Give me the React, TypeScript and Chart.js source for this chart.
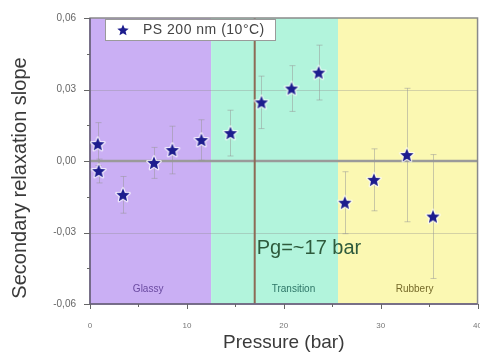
import React, { useEffect, useRef } from "react";
import { Chart, registerables } from "chart.js";

Chart.register(...registerables);

const pressure = [0.8, 0.9, 3.4, 6.6, 8.5, 11.5, 14.5, 17.7, 20.8, 23.6, 26.3, 29.3, 32.7, 35.4];
const slope = [0.0071, -0.0042, -0.0142, -0.0008, 0.0046, 0.0088, 0.0117, 0.0246, 0.0304, 0.0371, -0.0175, -0.0079, 0.0025, -0.0233];
const slopeErr = [0.009, 0.005, 0.0077, 0.0065, 0.01, 0.0085, 0.0096, 0.011, 0.0096, 0.0115, 0.013, 0.013, 0.028, 0.026];

const regionBounds = [0, 12.5, 25.6, 40];
const regionLabels = ["Glassy", "Transition", "Rubbery"];
const regionLabelX = [6, 21, 33.5];
const regionFill = ["#caaff4", "#b2f4dc", "#fbf8b2"];
const regionText = ["#6a4aa0", "#2d7566", "#756a2a"];

const pgValue = 17;
const pgLabel = "Pg=~17 bar";
const seriesLabel = "PS 200 nm (10°C)";
const yTitle = "Secondary relaxation slope";
const xTitle = "Pressure (bar)";

const xTicks = [0, 10, 20, 30, 40];
const yTicks = [-0.06, -0.03, 0, 0.03, 0.06];
const xMinor = [5, 15, 25, 35];
const yMinor = [-0.045, -0.015, 0.015, 0.045];

const FONT = "'Liberation Sans', Arial, sans-serif";

function makeStar(r: number): HTMLCanvasElement {
  const size = Math.ceil(r * 2 + 6);
  const c = document.createElement("canvas");
  c.width = size;
  c.height = size;
  const ctx = c.getContext("2d")!;
  const cx = size / 2;
  const cy = size / 2 + 0.5;
  ctx.beginPath();
  for (let i = 0; i < 10; i++) {
    const rad = i % 2 === 0 ? r : r * 0.45;
    const a = -Math.PI / 2 + (i * Math.PI) / 5;
    const px = cx + rad * Math.cos(a);
    const py = cy + rad * Math.sin(a);
    if (i === 0) ctx.moveTo(px, py);
    else ctx.lineTo(px, py);
  }
  ctx.closePath();
  ctx.lineJoin = "round";
  ctx.strokeStyle = "rgba(255,255,255,0.75)";
  ctx.lineWidth = 2.5;
  ctx.stroke();
  ctx.fillStyle = "#1d1d8e";
  ctx.fill();
  return c;
}

const decorPlugin = {
  id: "decor",
  beforeDraw(chart: any) {
    const { ctx, chartArea: a, scales } = chart;
    const x = scales.x;
    ctx.save();
    for (let i = 0; i < regionLabels.length; i++) {
      const x0 = x.getPixelForValue(regionBounds[i]);
      const x1 = x.getPixelForValue(regionBounds[i + 1]);
      ctx.fillStyle = regionFill[i];
      ctx.fillRect(x0, a.top, x1 - x0, a.bottom - a.top);
    }
    ctx.restore();
  },
  beforeDatasetsDraw(chart: any) {
    const { ctx, chartArea: a, scales } = chart;
    const x = scales.x;
    const y = scales.y;
    ctx.save();
    ctx.strokeStyle = "rgba(140,140,140,0.35)";
    ctx.lineWidth = 1;
    [-0.03, 0.03].forEach((v) => {
      const py = Math.round(y.getPixelForValue(v)) + 0.5;
      ctx.beginPath();
      ctx.moveTo(a.left, py);
      ctx.lineTo(a.right, py);
      ctx.stroke();
    });
    ctx.strokeStyle = "#9a9a9a";
    ctx.lineWidth = 2.5;
    const p0 = y.getPixelForValue(0);
    ctx.beginPath();
    ctx.moveTo(a.left, p0);
    ctx.lineTo(a.right, p0);
    ctx.stroke();
    ctx.strokeStyle = "rgba(150,150,150,0.5)";
    ctx.lineWidth = 1;
    for (let i = 0; i < pressure.length; i++) {
      const px = Math.round(x.getPixelForValue(pressure[i])) + 0.5;
      const yt = y.getPixelForValue(slope[i] + slopeErr[i]);
      const yb = y.getPixelForValue(slope[i] - slopeErr[i]);
      ctx.beginPath();
      ctx.moveTo(px, yt);
      ctx.lineTo(px, yb);
      ctx.moveTo(px - 3, yt);
      ctx.lineTo(px + 3, yt);
      ctx.moveTo(px - 3, yb);
      ctx.lineTo(px + 3, yb);
      ctx.stroke();
    }
    const pg = x.getPixelForValue(pgValue);
    ctx.strokeStyle = "#8d6a55";
    ctx.lineWidth = 2;
    ctx.beginPath();
    ctx.moveTo(pg, a.top);
    ctx.lineTo(pg, a.bottom);
    ctx.stroke();
    ctx.font = "10px " + FONT;
    ctx.textAlign = "center";
    ctx.textBaseline = "middle";
    for (let i = 0; i < regionLabels.length; i++) {
      ctx.fillStyle = regionText[i];
      ctx.fillText(regionLabels[i], x.getPixelForValue(regionLabelX[i]), a.bottom - 15);
    }
    ctx.font = "20px " + FONT;
    ctx.fillStyle = "#2e5a3c";
    ctx.textAlign = "left";
    ctx.fillText(pgLabel, pg + 2, y.getPixelForValue(-0.0365));
    ctx.strokeStyle = "#8a8a8a";
    ctx.lineWidth = 1.5;
    ctx.strokeRect(a.left, a.top, a.right - a.left, a.bottom - a.top);
    ctx.strokeStyle = "#6a5f80";
    ctx.lineWidth = 1.5;
    ctx.beginPath();
    ctx.moveTo(a.left, a.top);
    ctx.lineTo(a.left, a.bottom);
    ctx.lineTo(a.right, a.bottom);
    ctx.stroke();
    ctx.strokeStyle = "#666";
    ctx.lineWidth = 1;
    yTicks.forEach((v) => {
      const py = Math.round(y.getPixelForValue(v)) + 0.5;
      ctx.beginPath();
      ctx.moveTo(a.left - 6, py);
      ctx.lineTo(a.left, py);
      ctx.stroke();
    });
    yMinor.forEach((v) => {
      const py = Math.round(y.getPixelForValue(v)) + 0.5;
      ctx.beginPath();
      ctx.moveTo(a.left - 3, py);
      ctx.lineTo(a.left, py);
      ctx.stroke();
    });
    xTicks.forEach((v) => {
      const px = Math.round(x.getPixelForValue(v)) + 0.5;
      ctx.beginPath();
      ctx.moveTo(px, a.bottom);
      ctx.lineTo(px, a.bottom + 5);
      ctx.stroke();
    });
    xMinor.forEach((v) => {
      const px = Math.round(x.getPixelForValue(v)) + 0.5;
      ctx.beginPath();
      ctx.moveTo(px, a.bottom);
      ctx.lineTo(px, a.bottom + 3);
      ctx.stroke();
    });
    ctx.restore();
  },
  afterDatasetsDraw(chart: any) {
    const { ctx, chartArea: a } = chart;
    ctx.save();
    const bx = a.left + 15;
    const by = a.top + 1;
    ctx.fillStyle = "#ffffff";
    ctx.fillRect(bx, by, 170, 21);
    ctx.strokeStyle = "#9a9a9a";
    ctx.lineWidth = 1;
    ctx.strokeRect(bx + 0.5, by + 0.5, 170, 21);
    const star = makeStar(6);
    ctx.drawImage(star, bx + 18 - star.width / 2, by + 11 - star.height / 2);
    ctx.font = "14px " + FONT;
    (ctx as any).letterSpacing = "0.5px";
    ctx.fillStyle = "#444";
    ctx.textBaseline = "middle";
    ctx.textAlign = "left";
    ctx.fillText(seriesLabel, bx + 38, by + 11);
    ctx.restore();
    // y axis title
    ctx.save();
    ctx.translate(20, (a.top + a.bottom) / 2 + 17);
    ctx.rotate(-Math.PI / 2);
    ctx.font = "20px " + FONT;
    ctx.fillStyle = "#3a3a3a";
    ctx.textAlign = "center";
    ctx.textBaseline = "middle";
    ctx.fillText(yTitle, 0, 0);
    ctx.restore();
  },
};

export default function App() {
  const ref = useRef<HTMLCanvasElement | null>(null);
  useEffect(() => {
    document.body.style.margin = "0";
    document.body.style.overflow = "hidden";
    const star = makeStar(7);
    const chart = new Chart(ref.current!, {
      type: "scatter",
      data: {
        datasets: [
          {
            label: seriesLabel,
            data: pressure.map((p, i) => ({ x: p, y: slope[i] })),
            pointStyle: star as any,
            pointRadius: 7,
            backgroundColor: "#1d1d8e",
            borderColor: "#1d1d8e",
          },
        ],
      },
      options: {
        responsive: false,
        animation: false,
        layout: { padding: { top: 18, right: 3, left: 0, bottom: 0 } },
        plugins: { legend: { display: false }, tooltip: { enabled: false } },
        scales: {
          x: {
            type: "linear",
            min: 0,
            max: 40,
            grid: { display: false },
            border: { display: false },
            afterBuildTicks: (s: any) => {
              s.ticks = xTicks.map((v) => ({ value: v }));
            },
            ticks: {
              color: "#777",
              font: { size: 8, family: FONT },
              padding: 9,
              maxRotation: 0,
            },
            afterFit: (s: any) => {
              s.height = 50;
            },
            title: {
              display: true,
              text: xTitle,
              color: "#3a3a3a",
              font: { size: 19, family: FONT },
              padding: { top: 0, bottom: 0 },
            },
          },
          y: {
            type: "linear",
            min: -0.06,
            max: 0.06,
            grid: { display: false },
            border: { display: false },
            afterBuildTicks: (s: any) => {
              s.ticks = yTicks.map((v) => ({ value: v }));
            },
            ticks: {
              color: "#666",
              font: { size: 10, family: FONT },
              padding: 6,
              callback: (v: any) => Number(v).toFixed(2).replace(".", ","),
            },
            afterFit: (s: any) => {
              s.width = 90;
            },
            title: { display: false },
          },
        },
      },
      plugins: [decorPlugin],
    });
    return () => chart.destroy();
  }, []);
  return (
    <div style={{ position: "absolute", left: 0, top: 0, width: 480, height: 354, overflow: "hidden" }}>
      <canvas ref={ref} width={491} height={354} style={{ display: "block" }} />
    </div>
  );
}
